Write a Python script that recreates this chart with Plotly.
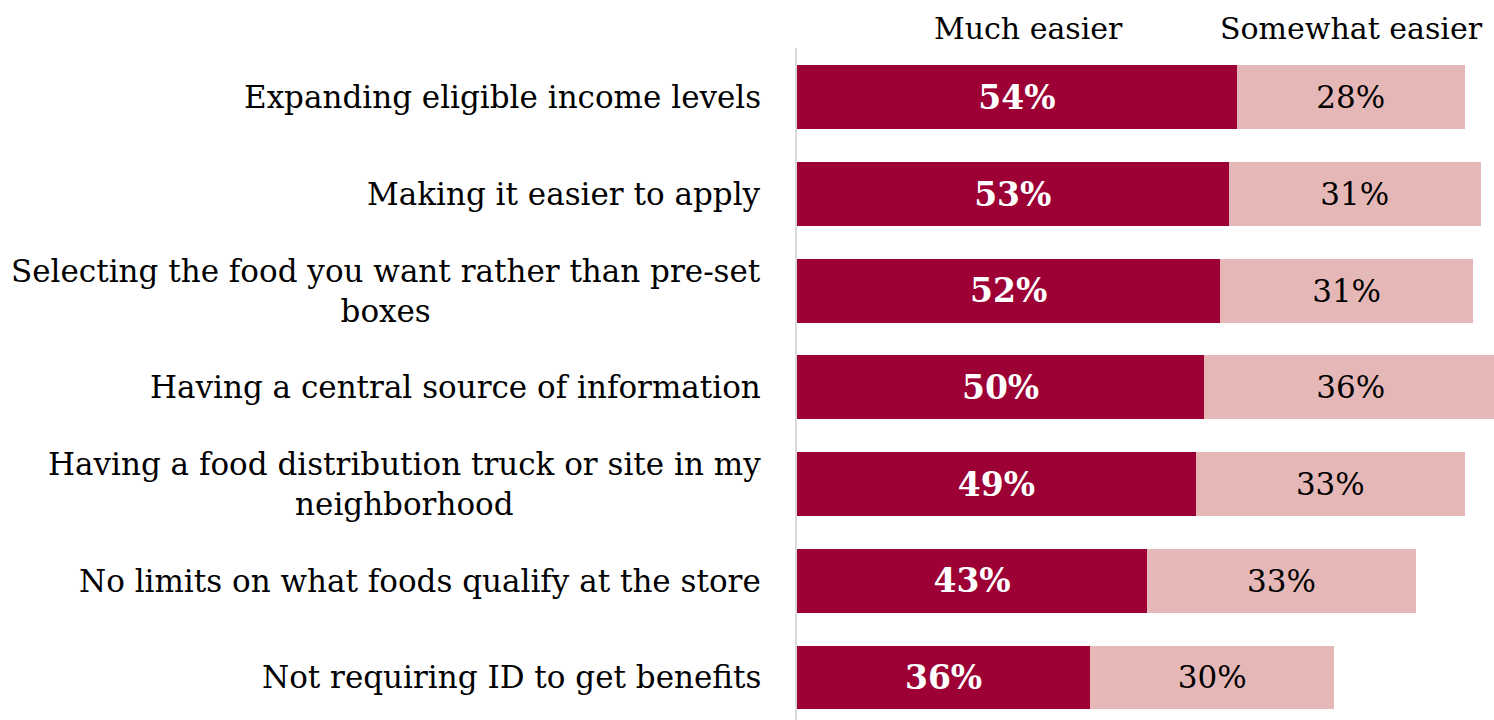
import plotly.graph_objects as go

categories = [
    "Expanding eligible income levels",
    "Making it easier to apply",
    "Selecting the food you want rather than pre-set<br>boxes",
    "Having a central source of information",
    "Having a food distribution truck or site in my<br>neighborhood",
    "No limits on what foods qualify at the store",
    "Not requiring ID to get benefits",
]
much_easier = [54, 53, 52, 50, 49, 43, 36]
somewhat_easier = [28, 31, 31, 36, 33, 33, 30]
series_names = ["Much easier", "Somewhat easier"]

FONT = "DejaVu Serif"
DARK = "#9C0034"
LIGHT = "#E5B8B7"

ypos = list(range(len(categories)))

fig = go.Figure()
fig.add_trace(go.Bar(
    y=ypos, x=much_easier, orientation="h", name=series_names[0],
    marker=dict(color=DARK, line=dict(width=0)),
    text=[f"<b>{v}%</b>" for v in much_easier], textposition="inside",
    insidetextanchor="middle", textangle=0,
    textfont=dict(family=FONT, size=33, color="white"),
))
fig.add_trace(go.Bar(
    y=ypos, x=somewhat_easier, orientation="h", name=series_names[1],
    marker=dict(color=LIGHT, line=dict(width=0)),
    text=[f"{v}%" for v in somewhat_easier], textposition="inside",
    insidetextanchor="middle", textangle=0,
    textfont=dict(family=FONT, size=31, color="black"),
))

# Category labels drawn as centred multi-line annotations left of the axis
for i, cat in enumerate(categories):
    fig.add_annotation(
        x=0, y=i, xref="x", yref="y", text=cat, showarrow=False,
        xanchor="right", yanchor="middle", align="center", xshift=-34,
        font=dict(family=FONT, size=31, color="black"),
    )

# Series headers above the bars
for name, xc in zip(series_names, [28.4, 68.1]):
    fig.add_annotation(
        x=xc, y=1, xref="x", yref="paper", text=name, showarrow=False,
        xanchor="center", yanchor="bottom", yshift=0,
        font=dict(family=FONT, size=30, color="black"),
    )

fig.update_layout(
    barmode="stack", bargap=0.34, showlegend=False,
    width=1494, height=720,
    margin=dict(l=797, r=0, t=48, b=0),
    plot_bgcolor="white", paper_bgcolor="white",
)
fig.update_xaxes(range=[0, 85.6], visible=False, showgrid=False, zeroline=False)
fig.update_yaxes(
    range=[6.44, -0.51], showticklabels=False, showgrid=False, zeroline=False,
    showline=True, linecolor="#D9D9D9", linewidth=2, ticks="",
)

fig.write_html("out.html")
